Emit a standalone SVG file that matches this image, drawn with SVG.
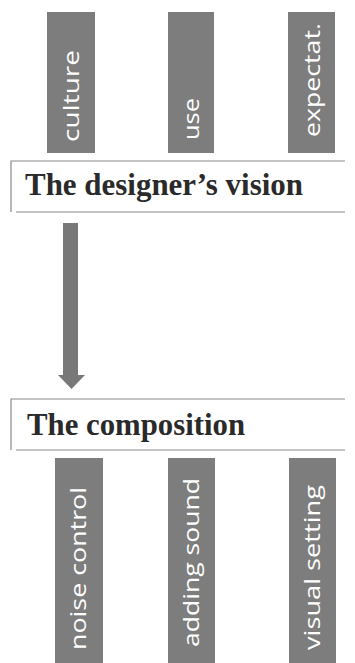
<svg xmlns="http://www.w3.org/2000/svg" width="355" height="663" viewBox="0 0 355 663">
<style>
.bar{fill:#7d7d7d;}
.lbl{font-family:"Open Sans","Noto Sans",sans-serif;font-size:21px;fill:#ffffff;}
.frame{fill:none;stroke:#8a8a8a;stroke-width:1.2;}
.title{font-family:"Liberation Serif","Times New Roman",serif;font-weight:bold;font-size:31px;fill:#2a2a2a;}
.arrow{fill:#787878;}
</style>
<rect width="355" height="663" fill="#ffffff"/>
<g id="culture">
<rect class="bar" x="47" y="12" width="48" height="141"/>
<text class="lbl" transform="translate(79,142) rotate(-90)" textLength="92" lengthAdjust="spacingAndGlyphs">culture</text>
</g>
<g id="use">
<rect class="bar" x="168" y="12" width="46" height="141"/>
<text class="lbl" transform="translate(199,140) rotate(-90)" textLength="42" lengthAdjust="spacingAndGlyphs">use</text>
</g>
<g id="expectat">
<rect class="bar" x="288" y="12" width="47" height="141"/>
<text class="lbl" transform="translate(320,137) rotate(-90)" textLength="114" lengthAdjust="spacingAndGlyphs">expectat.</text>
</g>
<g id="vision">
<path class="frame" d="M345,161 H11 V212 M16,212 H345"/>
<text class="title" x="25" y="195" textLength="278" lengthAdjust="spacingAndGlyphs">The designer’s vision</text>
</g>
<g id="connectors">
<rect class="arrow" x="63" y="223" width="15" height="153"/>
<polygon class="arrow" points="58,375 85,375 71.5,389"/>
</g>
<g id="composition">
<path class="frame" d="M345,399 H11 V450 M16,450 H345"/>
<text class="title" x="27" y="435" textLength="218" lengthAdjust="spacingAndGlyphs">The composition</text>
</g>
<g id="noise">
<rect class="bar" x="55" y="458" width="48" height="205"/>
<text class="lbl" transform="translate(86,650) rotate(-90)" textLength="163" lengthAdjust="spacingAndGlyphs">noise control</text>
</g>
<g id="adding">
<rect class="bar" x="168" y="458" width="47" height="205"/>
<text class="lbl" transform="translate(199,647) rotate(-90)" textLength="169" lengthAdjust="spacingAndGlyphs">adding sound</text>
</g>
<g id="visual">
<rect class="bar" x="289" y="458" width="47" height="205"/>
<text class="lbl" transform="translate(320,650) rotate(-90)" textLength="165" lengthAdjust="spacingAndGlyphs">visual setting</text>
</g>
</svg>
